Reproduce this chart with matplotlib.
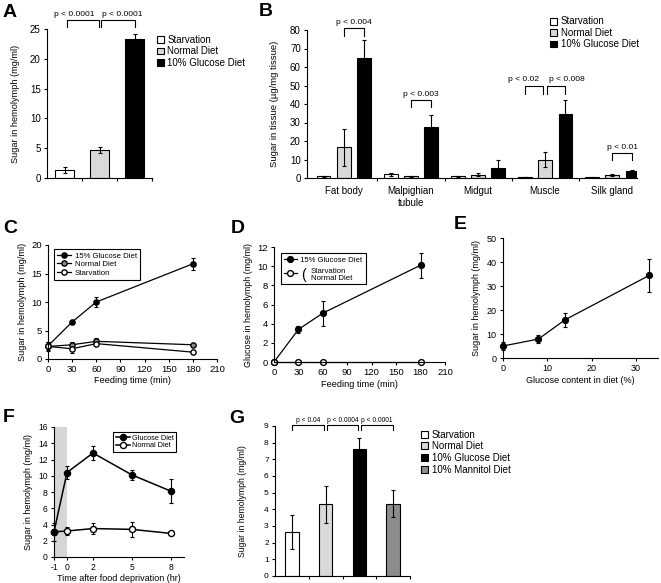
import matplotlib
matplotlib.use('Agg')
import matplotlib.pyplot as plt
import numpy as np

plt.rcParams['font.family'] = ['Liberation Sans', 'DejaVu Sans']
plt.rcParams['axes.linewidth'] = 0.8
plt.rcParams['axes.unicode_minus'] = False
plt.rcParams['xtick.major.width'] = 0.8
plt.rcParams['ytick.major.width'] = 0.8
plt.rcParams['xtick.major.size'] = 2.5
plt.rcParams['ytick.major.size'] = 2.5
plt.rcParams['xtick.major.pad'] = 2
plt.rcParams['ytick.major.pad'] = 2

# panel A
diets_a = ['Starvation', 'Normal Diet', '10% Glucose Diet']
sugar_a = [1.4, 4.7, 23.4]
sugar_a_err = [0.5, 0.5, 0.8]

# panel B
tissues_b = ['Fat body', 'Malpighian\ntubule', 'Midgut', 'Muscle', 'Silk gland']
starv_b = [1.0, 2.0, 1.0, 0.5, 0.3]
starv_b_err = [0.3, 0.8, 0.3, 0.2, 0.2]
normal_b = [16.5, 1.0, 1.8, 10.0, 1.8]
normal_b_err = [9.8, 0.3, 0.8, 4.0, 0.6]
glucose_b = [65.0, 27.5, 5.4, 34.8, 4.0]
glucose_b_err = [9.7, 6.3, 4.3, 7.6, 0.4]

# panel C
time_c = [0, 30, 60, 180]
glucose15_c = [2.3, 6.5, 10.0, 16.7]
glucose15_c_err = [0.7, 0.2, 0.8, 1.0]
normal_c = [2.2, 2.5, 3.1, 2.5]
normal_c_err = [0.3, 0.5, 0.5, 0.2]
starv_c = [2.2, 1.8, 2.7, 1.2]
starv_c_err = [0.8, 0.8, 0.3, 0.2]

# panel D
time_d = [0, 30, 60, 180]
glucose15_d = [0, 3.4, 5.1, 10.1]
glucose15_d_err = [0, 0.4, 1.3, 1.3]
control_d = [0, 0, 0, 0]

# panel E
content_e = [0, 8, 14, 33]
sugar_e = [5.0, 7.9, 15.9, 34.4]
sugar_e_err = [1.8, 1.5, 2.8, 6.8]

# panel F
time_f = [-1, 0, 2, 5, 8]
glucose_f = [3.1, 10.4, 12.8, 10.1, 8.1]
glucose_f_err = [1.1, 0.8, 0.9, 0.6, 1.5]
normal_f = [3.1, 3.2, 3.5, 3.4, 2.9]
normal_f_err = [0.3, 0.5, 0.7, 0.9, 0.1]

# panel G
diets_g = ['Starvation', 'Normal Diet', '10% Glucose Diet', '10% Mannitol Diet']
sugar_g = [2.65, 4.3, 7.65, 4.35]
sugar_g_err = [1.0, 1.1, 0.65, 0.8]

W, H = 661, 583
fig = plt.figure(figsize=(W / 100, H / 100), dpi=100)


def box(left, top, right, bottom):
    # pixel edges -> figure fractions
    return [left / W, 1 - bottom / H, (right - left) / W, (bottom - top) / H]


def style(ax, size):
    ax.spines['top'].set_visible(False)
    ax.spines['right'].set_visible(False)
    ax.tick_params(direction='out', labelsize=size)


def letter(x, y, s):
    fig.text(x / W, 1 - y / H, s, fontsize=14, fontweight='bold', va='top', ha='left')


def bracket(ax, x1, x2, top, leg, text, size, tx=None, off=1.5):
    ax.plot([x1, x1, x2, x2], [leg, top, top, leg], color='black', lw=0.8, clip_on=False)
    if tx is None:
        tx = 0.5 * (x1 + x2)
    ax.annotate(text, (tx, top), xytext=(0, off), textcoords='offset points',
                ha='center', va='bottom', fontsize=size, annotation_clip=False)


def legend(ax, handles, labels, x, y, size, framed=False, **kw):
    leg = ax.legend(handles, labels, loc='upper left', bbox_to_anchor=(x / W, 1 - y / H),
                    bbox_transform=fig.transFigure, fontsize=size, frameon=framed,
                    fancybox=False, borderaxespad=0, **kw)
    if framed:
        leg.get_frame().set_edgecolor('black')
        leg.get_frame().set_linewidth(0.8)
        leg.get_frame().set_alpha(1)
    return leg


def series(ax, x, y, err, face, ms=4, lw=0.9):
    c = ax.errorbar(x, y, yerr=err, fmt='-o', color='black', mfc=face, mec='black', ms=ms,
                    lw=lw, elinewidth=0.8, capsize=1.5, capthick=0.8)
    for a in c.get_children():
        a.set_clip_on(False)
    return c[0]


bar_kw = dict(edgecolor='black', linewidth=0.8, capsize=1.5,
              error_kw=dict(elinewidth=0.8, capthick=0.8))

# ---- A
ax = fig.add_axes(box(47, 29, 152, 178))
xa = np.arange(len(diets_a))
bars = ax.bar(xa, sugar_a, 0.52, yerr=sugar_a_err, color=['white', '#d9d9d9', 'black'], **bar_kw)
ax.set_xlim(-0.5, 2.5)
ax.set_ylim(0, 25)
ax.set_xticks(xa + 0.5)
ax.set_xticklabels([])
ax.set_yticks(range(0, 26, 5))
style(ax, 7)
ax.set_ylabel('Sugar in hemolymph (mg/ml)', fontsize=6.6, labelpad=7)
bracket(ax, 0.08, 0.98, 26.5, 25.3, 'p < 0.0001', 6, tx=0.28)
bracket(ax, 1.03, 2.0, 26.5, 25.3, 'p < 0.0001', 6, tx=1.66)
legend(ax, list(bars), diets_a, 157, 35, 7, handlelength=0.7, handleheight=0.7,
       handletextpad=0.35, labelspacing=0.15, borderpad=0)
letter(3, 4, 'A')

# ---- B
ax = fig.add_axes(box(307, 30, 637, 178))
xb = np.arange(len(tissues_b))
ax.bar(xb - 0.3, starv_b, 0.2, yerr=starv_b_err, color='white', label='Starvation', **bar_kw)
ax.bar(xb, normal_b, 0.2, yerr=normal_b_err, color='#d9d9d9', label='Normal Diet', **bar_kw)
ax.bar(xb + 0.3, glucose_b, 0.2, yerr=glucose_b_err, color='black', label='10% Glucose Diet', **bar_kw)
ax.set_xlim(-0.55, 4.37)
ax.set_ylim(0, 80)
ax.set_yticks(range(0, 81, 10))
ax.set_xticks(xb[:-1] + 0.5)
ax.set_xticklabels([])
ax.set_xticks(xb, minor=True)
ax.set_xticklabels(tissues_b, minor=True)
style(ax, 7)
ax.tick_params(axis='x', which='minor', length=0, labelsize=7, pad=6)
ax.set_ylabel('Sugar in tissue (\u00b5g/mg tissue)', fontsize=6.8, labelpad=8)
bracket(ax, 0.0, 0.3, 81, 77, 'p < 0.004', 6.1)
bracket(ax, 1.0, 1.3, 42, 38.5, 'p < 0.003', 6.1)
bracket(ax, 2.7, 2.97, 50, 45.5, 'p < 0.02', 6.1, tx=2.68)
bracket(ax, 3.03, 3.3, 50, 45.5, 'p < 0.008', 6.1, tx=3.32)
bracket(ax, 4.0, 4.3, 13.5, 9.5, 'p < 0.01', 6.1)
h, l = ax.get_legend_handles_labels()
legend(ax, h, l, 550, 16.5, 7, handlelength=0.7, handleheight=0.7,
       handletextpad=0.4, labelspacing=0.15, borderpad=0)
letter(259, 3, 'B')

# ---- C
ax = fig.add_axes(box(48, 245, 217, 359))
h1 = series(ax, time_c, glucose15_c, glucose15_c_err, 'black', ms=3.8)
h2 = series(ax, time_c, normal_c, normal_c_err, '#8a8a8a', ms=3.8)
h3 = series(ax, time_c, starv_c, starv_c_err, 'white', ms=3.8)
ax.set_xlim(0, 210)
ax.set_ylim(0, 20)
ax.set_xticks(range(0, 211, 30))
ax.set_yticks(range(0, 21, 5))
style(ax, 6.8)
ax.set_xlabel('Feeding time (min)', fontsize=6.6, labelpad=1.5)
ax.set_ylabel('Sugar in hemolymph (mg/ml)', fontsize=6.6, labelpad=3)
legend(ax, [h1, h2, h3], ['15% Glucose Diet', 'Normal Diet', 'Starvation'], 54, 249, 5.6,
       framed=True, handlelength=1.8, handletextpad=0.5, labelspacing=0.15, borderpad=0.4)
letter(3, 220, 'C')

# ---- D
ax = fig.add_axes(box(274, 247, 445, 362))
h1 = series(ax, time_d, glucose15_d, glucose15_d_err, 'black', ms=4.2)
h2 = series(ax, time_d, control_d, None, 'white', ms=4.2, lw=1.8)
ax.set_xlim(0, 210)
ax.set_ylim(0, 12)
ax.set_xticks(range(0, 211, 30))
ax.set_yticks(range(0, 13, 2))
style(ax, 6.8)
ax.set_xlabel('Feeding time (min)', fontsize=6.6, labelpad=2)
ax.set_ylabel('Glucose in hemolymph (mg/ml)', fontsize=6.4, labelpad=3)
h2.set_linewidth(0.9)
# second entry text is drawn beside a bracket, so the legend keeps only its room
legend(ax, [h1, h2], ['15% Glucose Diet', ' \n '], 281, 253, 5.6,
       framed=True, handlelength=1.6, handletextpad=0.5, labelspacing=0.3, borderpad=0.4)
fig.text(301 / W, 1 - 275.5 / H, '(', fontsize=10, va='center', ha='left')
fig.text(311 / W, 1 - 275 / H, 'Starvation\nNormal Diet', fontsize=5.6, va='center',
         ha='left', linespacing=1.15)
letter(231, 220, 'D')

# ---- E
ax = fig.add_axes(box(503, 238, 658, 358))
series(ax, content_e, sugar_e, sugar_e_err, 'black', ms=4.2)
ax.set_xlim(0, 35)
ax.set_ylim(0, 50)
ax.set_xticks(range(0, 31, 10))
ax.set_yticks(range(0, 51, 10))
style(ax, 6.5)
ax.set_xlabel('Glucose content in diet (%)', fontsize=6.5, labelpad=2)
ax.set_ylabel('Sugar in hemolymph (mg/ml)', fontsize=6.5, labelpad=4)
letter(454, 216, 'E')

# ---- F
ax = fig.add_axes(box(54, 427, 184, 557))
ax.axvspan(-1, 0, color='#d6d6d6', lw=0)
h1 = series(ax, time_f, normal_f, normal_f_err, 'white', ms=4.4, lw=1.1)
h2 = series(ax, time_f, glucose_f, glucose_f_err, 'black', ms=4.4, lw=1.1)
ax.set_xlim(-1, 9)
ax.set_ylim(0, 16)
ax.set_xticks(time_f)
ax.set_yticks(range(0, 17, 2))
style(ax, 6.2)
ax.set_xlabel('Time after food deprivation (hr)', fontsize=6.5, labelpad=1)
ax.set_ylabel('Sugar in hemolymph (mg/ml)', fontsize=6.5, labelpad=3.5)
legend(ax, [h2, h1], ['Glucose Diet', 'Normal Diet'], 113, 432, 5.3,
       framed=True, handlelength=1.9, handletextpad=0.3, labelspacing=0.05, borderpad=0.35)
letter(3, 409, 'F')

# ---- G
ax = fig.add_axes(box(275, 426, 410, 576))
xg = np.arange(len(diets_g))
bars = ax.bar(xg, sugar_g, 0.4, yerr=sugar_g_err,
              color=['white', '#d9d9d9', 'black', '#8c8c8c'], **bar_kw)
ax.set_xlim(-0.5, 3.5)
ax.set_ylim(0, 9)
ax.set_xticks(xg + 0.5)
ax.set_xticklabels([])
ax.set_yticks(range(0, 10))
style(ax, 6)
ax.set_ylabel('Sugar in hemolymph (mg/ml)', fontsize=6.2, labelpad=12)
bracket(ax, 0.0, 0.95, 9.05, 8.75, 'p < 0.04', 4.8, off=1)
bracket(ax, 1.05, 1.97, 9.05, 8.75, 'p < 0.0004', 4.8, off=1)
bracket(ax, 2.05, 3.0, 9.05, 8.75, 'p < 0.0001', 4.8, off=1)
legend(ax, list(bars), diets_g, 421, 429.5, 7, handlelength=0.7, handleheight=0.7,
       handletextpad=0.4, labelspacing=0.18, borderpad=0)
letter(229, 410, 'G')

fig.savefig('out.png', dpi=100)
